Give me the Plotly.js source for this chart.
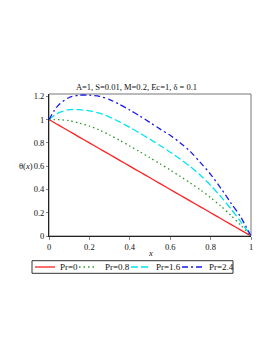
<!DOCTYPE html>
<html><head><meta charset="utf-8">
<script src="https://cdn.plot.ly/plotly-3.0.1.min.js"></script>
<style>html,body{margin:0;padding:0;background:#fff;}#c{width:273px;height:353px;}</style>
</head><body><div id="c"></div>
<script>
const xs   = [0,0.025,0.05,0.1,0.15,0.2,0.25,0.3,0.35,0.4,0.45,0.5,0.55,0.6,0.65,0.7,0.75,0.8,0.85,0.9,0.95,1];
const pr0  = [1,0.975,0.95,0.9,0.85,0.8,0.75,0.7,0.65,0.6,0.55,0.5,0.45,0.4,0.35,0.3,0.25,0.2,0.15,0.1,0.05,0];
const pr08 = [1,1.0,1.0,0.99,0.97,0.945,0.91,0.868,0.822,0.773,0.723,0.672,0.62,0.567,0.512,0.455,0.395,0.33,0.258,0.178,0.092,0];
const pr16 = [1,1.035,1.06,1.085,1.085,1.075,1.055,1.022,0.98,0.933,0.883,0.831,0.777,0.72,0.66,0.595,0.52,0.435,0.34,0.235,0.122,0];
const pr24 = [1,1.075,1.13,1.19,1.21,1.21,1.2,1.172,1.13,1.082,1.03,0.975,0.918,0.865,0.8,0.725,0.63,0.53,0.412,0.285,0.16,0];
const names = ['Pr=0','Pr=0.8','Pr=1.6','Pr=2.4'];
const xTicks = [0,0.2,0.4,0.6,0.8,1];
const xTickText = ['0','0.2','0.4','0.6','0.8','1'];
const yTicks = [0,0.2,0.4,0.6,0.8,1,1.2];
const yTickText = ['0','0.2','0.4','0.6','0.8','1','1.2'];

const series = [pr0, pr08, pr16, pr24];
const colors = ['#ff2020','#2e9a2e','#00e5ee','#1a1aee'];
const dashes = ['solid','1.5px,3px','7px,3px','6px,3px,2px,3px'];
const traces = series.map((ys,i)=>({
  x: xs, y: ys, name: names[i], type:'scatter', mode:'lines', showlegend:false,
  line:{color:colors[i], width:1.3, dash:dashes[i], shape:'spline', smoothing:0.8}
}));
const fam = '"Liberation Serif", "Times New Roman", serif';
const font = {family:fam, size:8.5, color:'#111'};
const legFont = {family:fam, size:9, color:'#111'};

// plot-area geometry (pixels) used to place the hand-built one-row legend
const L = 49, W = 202, B = 236, H = 142;
const px2x = p => (p - L) / W, px2y = p => (B - p) / H;
const legLineStart = [35, 79, 131, 182], legLineEnd = [55, 97, 151, 203], legTextStart = [58, 103, 154, 207];
const legY = 267;

const shapes = [
  {type:'rect', xref:'paper', yref:'paper', x0:0, x1:1, y0:0, y1:1, line:{color:'#777', width:1}, layer:'below'},
  {type:'rect', xref:'paper', yref:'paper', x0:px2x(32), x1:px2x(233), y0:px2y(273.3), y1:px2y(260.7), line:{color:'#333', width:1}}
];
const annotations = [
  {text:'θ(<i>x</i>)', xref:'paper', yref:'paper', x:px2x(26.3), y:px2y(166), xanchor:'center', yanchor:'middle', showarrow:false, font:font},
  {text:'<i>x</i>', xref:'paper', yref:'paper', x:px2x(150), y:px2y(253), xanchor:'center', yanchor:'middle', showarrow:false, font:font}
];
names.forEach((n,i)=>{
  shapes.push({type:'line', xref:'paper', yref:'paper', x0:px2x(legLineStart[i]), x1:px2x(legLineEnd[i]), y0:px2y(legY), y1:px2y(legY),
    line:{color:colors[i], width:1.3, dash:dashes[i]}});
  annotations.push({text:n, xref:'paper', yref:'paper', x:px2x(legTextStart[i]), y:px2y(legY), xanchor:'left', yanchor:'middle', showarrow:false, font:legFont});
});

const layout = {
  width:273, height:353,
  margin:{l:49, r:22, t:94, b:117},
  paper_bgcolor:'#fff', plot_bgcolor:'#fff',
  font: font,
  showlegend:false,
  title:{text:'A=1, S=0.01, M=0.2, Ec=1, δ = 0.1', x:0.5, xref:'container', xanchor:'center', y:1-87/353, yref:'container', yanchor:'middle', font:{family:fam, size:8.5, color:'#111'}},
  xaxis:{range:[0,1], tickvals:xTicks, ticktext:xTickText, showgrid:false, zeroline:false,
    showline:true, linecolor:'#222', linewidth:1, ticks:'outside', ticklen:3, tickcolor:'#888', tickfont:font},
  yaxis:{range:[0,1.22], tickvals:yTicks, ticktext:yTickText, showgrid:false, zeroline:false,
    showline:true, linecolor:'#222', linewidth:1, ticks:'outside', ticklen:2, tickcolor:'#888', tickfont:font},
  shapes: shapes,
  annotations: annotations
};
Plotly.newPlot('c', traces, layout, {displayModeBar:false, staticPlot:true});
</script></body></html>
